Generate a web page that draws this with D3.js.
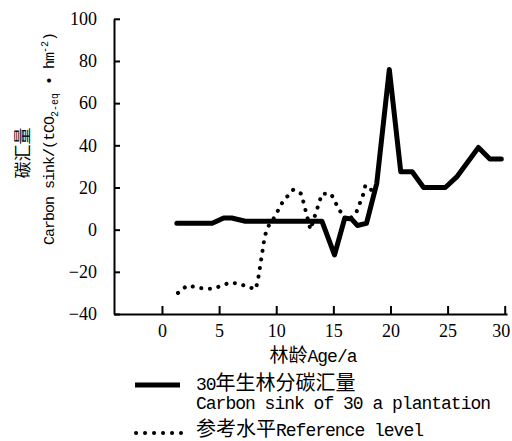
<!DOCTYPE html>
<html>
<head>
<meta charset="utf-8">
<script src="https://cdn.jsdelivr.net/npm/d3@7/dist/d3.min.js"></script>
<style>
  body { margin: 0; background: #fff; }
  svg { display: block; }
  .axis text { font-family: "Liberation Serif", "Times New Roman", "DejaVu Serif", serif; font-size: 18px; }
</style>
</head>
<body>
<script>
// Daten: Alter (a) und Kohlenstoffsenke
var plantAge = [1.3, 4.4, 5.4, 6.1, 7.3, 14.0, 15.1, 16.0, 16.6, 17.1, 17.9, 18.8, 19.9, 20.9, 21.9, 22.9, 24.8, 25.8, 27.7, 28.7, 29.7];
var plantSink = [3, 3, 5.5, 5.5, 4, 4, -12, 5.5, 5, 2, 3, 22, 76, 27.5, 27.5, 20, 20, 25, 39, 33.5, 33.5];

var refAge = [1.4, 2.2, 3.7, 4.5, 6.0, 6.8, 8.2, 8.4, 9.0, 9.3, 9.8, 10.6, 11.5, 12.2, 13.0, 13.5, 14.0, 14.8, 15.5, 16.2, 17.0, 17.6, 17.8, 18.2, 18.5];
var refSink = [-30, -26.5, -28, -28, -25, -25.8, -28.3, -24, -3, 1.5, 5.5, 13.5, 19, 17, 0, 8.5, 17, 17, 9.5, 4, 8, 16.5, 21, 20, 17];

var xTicks = [0, 5, 10, 15, 20, 25, 30];
var yTicks = [-40, -20, 0, 20, 40, 60, 80, 100];

var width = 512, height = 441;

var svg = d3.select("body").append("svg")
    .attr("width", width)
    .attr("height", height);

// Skalen
var xScale = d3.scaleLinear().domain([-4.2, 30.2]).range([114, 507]);
var yScale = d3.scaleLinear().domain([-40, 100]).range([314, 18.8]);

// Achsen
var xAxis = svg.append("g")
    .attr("class", "axis")
    .attr("transform", "translate(0,314)")
    .call(d3.axisBottom(xScale).tickValues(xTicks).tickSizeInner(-8).tickSizeOuter(0).tickPadding(10));

var yAxis = svg.append("g")
    .attr("class", "axis")
    .attr("transform", "translate(114,0)")
    .call(d3.axisLeft(yScale).tickValues(yTicks).tickSizeInner(-6).tickSizeOuter(0).tickPadding(17));

[xAxis, yAxis].forEach(function(ax) {
    ax.attr("font-family", null).attr("font-size", null);
    ax.selectAll("path, line").attr("stroke", "#000").attr("stroke-width", 2);
    ax.selectAll("text").attr("fill", "#000");
});
// 30 sitzt im Original etwas links vom Tick
xAxis.selectAll(".tick text").filter(function(d) { return d === 30; }).attr("dx", -4);

// Linien
var line = d3.line()
    .x(function(d) { return xScale(d[0]); })
    .y(function(d) { return yScale(d[1]); });

var refData = refAge.map(function(a, i) { return [a, refSink[i]]; });
var plantData = plantAge.map(function(a, i) { return [a, plantSink[i]]; });

svg.append("path")
    .datum(refData)
    .attr("d", line)
    .attr("fill", "none")
    .attr("stroke", "#000")
    .attr("stroke-width", 4)
    .attr("stroke-linecap", "round")
    .attr("stroke-dasharray", "0.1 8.6");

svg.append("path")
    .datum(plantData)
    .attr("d", line)
    .attr("fill", "none")
    .attr("stroke", "#000")
    .attr("stroke-width", 5)
    .attr("stroke-linejoin", "round")
    .attr("stroke-linecap", "round");

var mono = "'Liberation Mono', 'DejaVu Sans Mono', monospace";
var cjk = "'Noto Sans CJK SC', sans-serif";

// Text aus Teilen: [text, cjk?]
function mixedText(sel, parts, size, cjkSize) {
    parts.forEach(function(p) {
        var t = sel.append("tspan").text(p[0]);
        if (p[1]) {
            t.style("font-family", cjk).style("font-size", cjkSize + "px").style("letter-spacing", "0px");
        } else {
            t.style("font-family", mono).style("font-size", size + "px").style("letter-spacing", "-1px");
        }
    });
}

// X Achsen Titel
var xt = svg.append("text")
    .attr("x", 313)
    .attr("y", 362)
    .attr("text-anchor", "middle")
    .attr("fill", "#000");
mixedText(xt, [["林龄", true], ["Age/a", false]], 18, 19);

// Y Achsen Titel
svg.append("text")
    .attr("transform", "translate(29,153) rotate(-90)")
    .attr("text-anchor", "middle")
    .style("font-family", cjk)
    .style("font-size", "17px")
    .text("碳汇量");

var yt = svg.append("text")
    .attr("transform", "translate(54,245) rotate(-90)")
    .style("font-family", mono)
    .style("font-size", "15px")
    .style("letter-spacing", "-1px");
yt.append("tspan").text("Carbon sink/(tCO");
yt.append("tspan").attr("dy", 4).style("font-size", "10px").style("letter-spacing", "0px").text("2-eq");
yt.append("tspan").attr("dy", -4).text(" • hm");
yt.append("tspan").attr("dy", -6).style("font-size", "10px").style("letter-spacing", "0px").text("-2");
yt.append("tspan").attr("dy", 6).text(")");

// Legende
svg.append("line")
    .attr("x1", 135).attr("x2", 180)
    .attr("y1", 385).attr("y2", 385)
    .attr("stroke", "#000").attr("stroke-width", 5);

svg.append("line")
    .attr("x1", 136).attr("x2", 181)
    .attr("y1", 433).attr("y2", 433)
    .attr("stroke", "#000").attr("stroke-width", 4)
    .attr("stroke-linecap", "round")
    .attr("stroke-dasharray", "0.1 8.9");

var legendLines = [
    {y: 390, parts: [["30", false], ["年生林分碳汇量", true]]},
    {y: 409, parts: [["Carbon sink of 30 a plantation", false]]},
    {y: 436, parts: [["参考水平", true], ["Reference level", false]]}
];
legendLines.forEach(function(d) {
    var t = svg.append("text")
        .attr("x", 196)
        .attr("y", d.y)
        .attr("fill", "#000");
    mixedText(t, d.parts, 18, 20);
});
</script>
</body>
</html>
